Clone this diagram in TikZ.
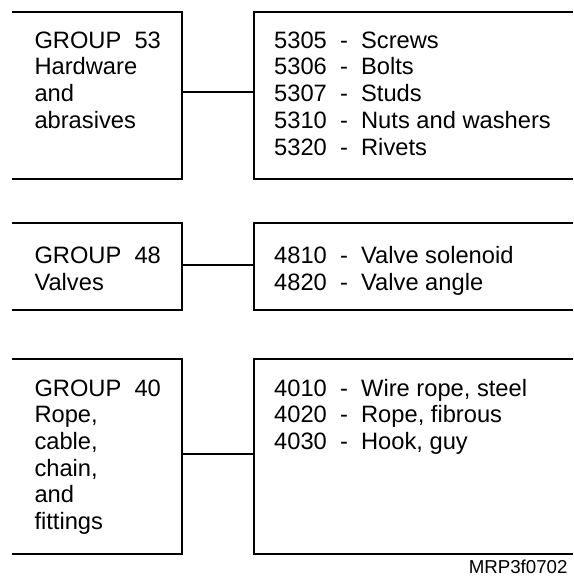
\documentclass[tikz,border=0pt]{standalone}
\usepackage{fontspec}
\setmainfont{Liberation Sans}
\begin{document}
\begin{tikzpicture}[x=1pt,y=-1pt,
  frame/.style={draw=none, shape=rectangle, inner sep=0, outer sep=0},
  edge/.style={line width=2pt, draw=black, line cap=butt, line join=miter},
  lbl/.style={anchor=base west, inner sep=0, font=\fontsize{23.7}{26.7}\selectfont},
  foot/.style={anchor=base east, inner sep=0, font=\fontsize{18.7}{22}\selectfont}]
\useasboundingbox (0,0) rectangle (573,577);

% box geometry
\node[frame, minimum width=170.3pt, minimum height=167.6pt] (g53) at (97.15,95.5) {};
\node[frame, minimum width=319pt,   minimum height=167.6pt] (i53) at (413.5,95.5) {};
\node[frame, minimum width=170.3pt, minimum height=86.7pt]  (g48) at (97.15,266.65) {};
\node[frame, minimum width=319pt,   minimum height=86.7pt]  (i48) at (413.5,266.65) {};
\node[frame, minimum width=170.3pt, minimum height=195pt]   (g40) at (97.15,456) {};
\node[frame, minimum width=319pt,   minimum height=195pt]   (i40) at (413.5,456) {};

% open-sided boxes
\foreach \b in {g53,g48,g40}
  \draw[edge] (\b.north west) -- (\b.north east) -- (\b.south east) -- (\b.south west);
\foreach \b in {i53,i48,i40}
  \draw[edge] (\b.north east) -- (\b.north west) -- (\b.south west) -- (\b.south east);

% connectors
\draw[edge] ([yshift=3pt]g53.east) -- ([yshift=3pt]i53.west);
\draw[edge] ([yshift=1.6pt]g48.east) -- ([yshift=1.6pt]i48.west);
\draw[edge] ([yshift=1.7pt]g40.east) -- ([yshift=1.7pt]i40.west);

% texts group 53
\foreach \t [count=\i from 0] in {GROUP~~53,Hardware,and,abrasives}
  \node[lbl] (tg53-\i) at (34.3,48.3+26.7*\i) {\t};
\foreach \t [count=\i from 0] in {5305~~-~~Screws,5306~~-~~Bolts,5307~~-~~Studs,5310~~-~~Nuts and washers,5320~~-~~Rivets}
  \node[lbl] (ti53-\i) at (274,48.3+26.7*\i) {\t};

% texts group 48
\foreach \t [count=\i from 0] in {GROUP~~48,Valves}
  \node[lbl] (tg48-\i) at (34.3,263.3+26.7*\i) {\t};
\foreach \t [count=\i from 0] in {4810~~-~~Valve solenoid,4820~~-~~Valve angle}
  \node[lbl] (ti48-\i) at (274,263.3+26.7*\i) {\t};

% texts group 40
\foreach \t [count=\i from 0] in {GROUP~~40,{Rope,},{cable,},{chain,},and,fittings}
  \node[lbl] (tg40-\i) at (34.3,396+26.7*\i) {\t};
\foreach \t [count=\i from 0] in {{4010~~-~~Wire rope, steel},{4020~~-~~Rope, fibrous},{4030~~-~~Hook, guy}}
  \node[lbl] (ti40-\i) at (274,396+26.7*\i) {\t};

\node[foot] (fig) at (567.7,573.5) {MRP3f0702};
\end{tikzpicture}
\end{document}
